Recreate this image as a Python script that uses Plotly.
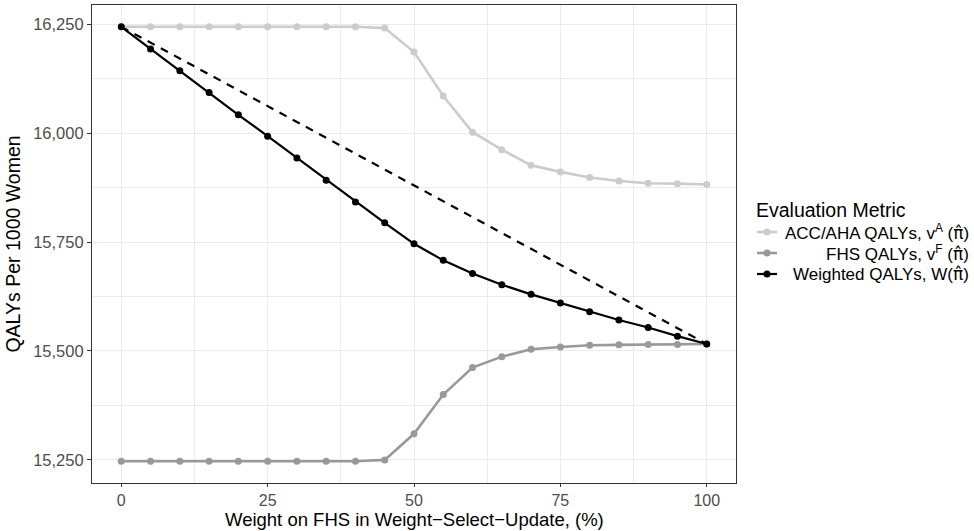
import plotly.graph_objects as go

weights = [0, 5, 10, 15, 20, 25, 30, 35, 40, 45, 50, 55, 60, 65, 70, 75, 80, 85, 90, 95, 100]
acc_aha = [16244, 16244, 16244, 16244, 16244, 16244, 16244, 16244, 16244, 16241, 16186, 16085,
           16002, 15962, 15926, 15911, 15898, 15890, 15885, 15884, 15882]
fhs = [15247, 15247, 15247, 15247, 15247, 15247, 15247, 15247, 15247, 15250, 15310, 15400,
       15462, 15487, 15504, 15509, 15513, 15514, 15515, 15515, 15516]
weighted = [16244, 16193, 16143, 16093, 16042, 15993, 15943, 15892, 15842, 15794, 15746, 15708,
            15678, 15652, 15630, 15610, 15590, 15571, 15554, 15534, 15516]
dashed_x = [0, 100]
dashed_y = [16244, 15516]

x_ticks = [0, 25, 50, 75, 100]
y_ticks = [15250, 15500, 15750, 16000, 16250]
y_ticklabels = ["15,250", "15,500", "15,750", "16,000", "16,250"]
x_title = "Weight on FHS in Weight\u2212Select\u2212Update, (%)"
y_title = "QALYs Per 1000 Women"
legend_title = "Evaluation Metric"

PIHAT = '<span style="font-family:DejaVu Sans">\u03c0\u0302</span>'
series_names = ["ACC/AHA QALYs, v<sup>A</sup> (" + PIHAT + ")",
                "FHS QALYs, v<sup>F</sup> (" + PIHAT + ")",
                "Weighted QALYs, W(" + PIHAT + ")"]
series_colors = ["#cccccc", "#999999", "#000000"]
series_widths = [2.6, 2.6, 2.2]

FONT = "Liberation Sans, Arial, sans-serif"
W, H = 974, 531
L, R, T, B = 92, 736, 5, 483

fig = go.Figure()
fig.add_trace(go.Scatter(x=dashed_x, y=dashed_y, mode="lines",
                         line=dict(color="black", width=2.2, dash="8px,7px"), showlegend=False,
                         hoverinfo="skip"))
for ys, name, col, lw in zip([acc_aha, fhs, weighted], series_names, series_colors, series_widths):
    fig.add_trace(go.Scatter(x=weights, y=ys, mode="lines+markers", name=name,
                             line=dict(color=col, width=lw),
                             marker=dict(color=col, size=7), showlegend=False))


def px(x):
    return (x - L) / (R - L)


def py(y):
    return (B - y) / (B - T)


shapes = []
annotations = []
annotations.append(dict(text=legend_title, x=px(754), y=py(210), xref="paper", yref="paper",
                        xanchor="left", yanchor="middle", showarrow=False,
                        font=dict(family=FONT, size=19.5, color="black")))
annotations.append(dict(text=x_title, x=0.5, y=py(519), xref="paper", yref="paper",
                        xanchor="center", yanchor="middle", showarrow=False,
                        font=dict(family=FONT, size=18.5, color="black")))
rows_y = [232, 253, 274]
for name, col, lw, ry in zip(series_names, series_colors, series_widths, rows_y):
    shapes.append(dict(type="line", xref="paper", yref="paper", x0=px(757), x1=px(777),
                       y0=py(ry), y1=py(ry), line=dict(color=col, width=lw)))
    r = 3.5
    shapes.append(dict(type="circle", xref="paper", yref="paper",
                       x0=px(767 - r), x1=px(767 + r), y0=py(ry + r), y1=py(ry - r),
                       fillcolor=col, line=dict(color=col, width=0)))
    annotations.append(dict(text=name, x=px(971), y=py(ry), xref="paper", yref="paper",
                            xanchor="right", yanchor="middle", showarrow=False,
                            font=dict(family=FONT, size=17, color="black")))

fig.update_layout(
    width=W, height=H,
    margin=dict(l=L, r=W - R, t=T, b=H - B),
    paper_bgcolor="white", plot_bgcolor="white",
    font=dict(family=FONT),
    shapes=shapes, annotations=annotations,
    showlegend=False,
    xaxis=dict(range=[-5, 105], tickvals=x_ticks, ticktext=[str(v) for v in x_ticks],
               automargin=False,
               showgrid=True, gridcolor="#ebebeb", gridwidth=1.1,
               minor=dict(tickvals=[12.5, 37.5, 62.5, 87.5], showgrid=True, gridcolor="#ebebeb", gridwidth=0.6),
               showline=True, linecolor="#333333", linewidth=1.1, mirror=True,
               ticks="outside", ticklen=2.5, tickcolor="#333333", tickwidth=1.1,
               tickfont=dict(family=FONT, size=16, color="#4d4d4d"), zeroline=False),
    yaxis=dict(range=[15197, 16294], tickvals=y_ticks, ticktext=y_ticklabels,
               automargin=False,
               showgrid=True, gridcolor="#ebebeb", gridwidth=1.1,
               minor=dict(tickvals=[15375, 15625, 15875, 16125], showgrid=True, gridcolor="#ebebeb", gridwidth=0.6),
               showline=True, linecolor="#333333", linewidth=1.1, mirror=True,
               ticks="outside", ticklen=4, tickcolor="#333333", tickwidth=1.1,
               tickfont=dict(family=FONT, size=16.5, color="#4d4d4d"), zeroline=False,
               title=dict(text=y_title, font=dict(family=FONT, size=19.5, color="black"),
                          standoff=7)),
)

fig.write_html("out.html")
